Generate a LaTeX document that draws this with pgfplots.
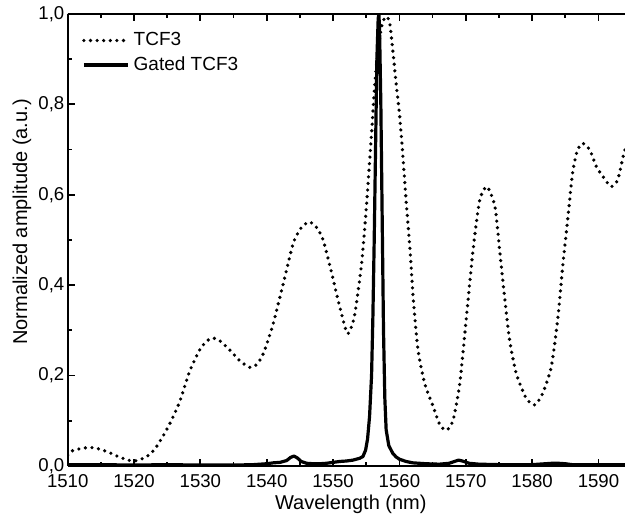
\documentclass[border=0pt]{standalone}
\usepackage{fontspec}
\setmainfont{Liberation Sans}
\usepackage{pgfplots}
\pgfplotsset{compat=1.18}
\begin{document}
\begin{tikzpicture}
\begin{axis}[
  scale only axis,
  width=278.65pt, height=226pt,
  xmin=1510, xmax=1594, ymin=0, ymax=1,
  axis x line*=box, axis y line*=left,
  xtick={1510,1520,1530,1540,1550,1560,1570,1580,1590},
  ytick={0,0.2,0.4,0.6,0.8,1},
  minor x tick num=1, minor y tick num=1,
  tick align=inside,
  major tick length=3.5pt, minor tick length=2pt,
  every tick/.style={black, line width=0.9pt},
  axis line style={line width=0.9pt},
  tick label style={font=\fontsize{9.3}{10}\selectfont},
  /pgf/number format/assume math mode=true,
  /pgf/number format/use comma,
  /pgf/number format/1000 sep={},
  yticklabel style={/pgf/number format/fixed, /pgf/number format/fixed zerofill, /pgf/number format/precision=1, inner xsep=1.5pt},
  xticklabel style={inner ysep=4pt},
  xlabel={Wavelength (nm)},
  ylabel={Normalized amplitude (a.u.)},
  label style={font=\fontsize{12.3}{14}\selectfont},
  every axis x label/.style={at={(axis description cs:0.508,-0.0973)}, anchor=base},
  every axis y label/.style={at={(axis description cs:-0.082,0.54)}, rotate=90, anchor=center},
  legend style={at={(axis description cs:0,1)}, anchor=north west, draw=none, fill=none,
    font=\fontsize{9.5}{11}\selectfont, xshift=4pt, yshift=-5pt, row sep=0pt},
  legend cell align=left,
  legend image code/.code={\draw[#1] (0pt,0pt) -- (22pt,0pt);},
]
\addplot[black, line width=1.8pt, line cap=round, dash pattern=on 0pt off 3.3pt, smooth, tension=0.4] coordinates {
(1510.0,0.024) (1510.6,0.033) (1511.8,0.038) (1513.4,0.041) (1514.9,0.037)
(1516.4,0.029) (1517.9,0.019) (1519.4,0.012) (1520.1,0.011) (1521.4,0.017)
(1522.4,0.026) (1523.4,0.043) (1524.6,0.072) (1525.6,0.100) (1526.9,0.143)
(1528.4,0.210) (1529.9,0.257) (1531.0,0.277) (1531.9,0.283) (1533.0,0.276)
(1534.4,0.257) (1536.0,0.232) (1537.5,0.218) (1538.6,0.226) (1539.5,0.249)
(1540.3,0.283) (1541.0,0.316) (1542.5,0.404) (1544.0,0.493) (1545.2,0.527)
(1546.4,0.540) (1547.5,0.528) (1548.5,0.500) (1549.8,0.426) (1551.0,0.352)
(1552.1,0.294) (1552.7,0.305) (1553.3,0.338) (1554.3,0.448) (1555.0,0.570)
(1555.8,0.736) (1556.3,0.847) (1556.8,0.920) (1557.3,0.972) (1557.9,0.994)
(1558.5,0.983) (1559.0,0.920) (1559.5,0.847) (1560.0,0.780) (1560.5,0.690)
(1561.0,0.588) (1561.6,0.478) (1562.1,0.367) (1562.8,0.257) (1563.8,0.183)
(1565.1,0.131) (1566.1,0.091) (1567.1,0.079) (1568.1,0.102) (1569.1,0.183)
(1570.1,0.330) (1571.1,0.478) (1572.1,0.588) (1573.2,0.618) (1574.4,0.574)
(1575.1,0.478) (1575.9,0.367) (1576.6,0.279) (1577.6,0.205) (1579.1,0.150)
(1580.4,0.135) (1581.6,0.161) (1582.9,0.220) (1583.9,0.330) (1584.6,0.440)
(1585.4,0.551) (1586.1,0.648) (1586.8,0.697) (1587.6,0.714) (1588.7,0.699)
(1589.7,0.662) (1590.7,0.640) (1591.9,0.618) (1592.9,0.633) (1593.7,0.684)
(1594.0,0.700)
};
\addlegendentry{TCF3}
\addplot[black, line width=1.6pt, line join=round] coordinates {
(1510,0.003) (1515,0.003) (1520,0.002) (1525,0.003) (1530,0.002) (1535,0.002)
(1538,0.003) (1540,0.005) (1541,0.007) (1542,0.008) (1543,0.012) (1543.6,0.019)
(1544.1,0.022) (1544.6,0.018) (1545.2,0.010) (1546,0.006) (1547,0.005) (1548,0.005)
(1549,0.006) (1550,0.008) (1551,0.010) (1552,0.011) (1553,0.013) (1554,0.017)
(1554.5,0.021) (1554.9,0.035) (1555.2,0.060) (1555.5,0.110) (1555.8,0.200)
(1556.0,0.330) (1556.2,0.500) (1556.4,0.700) (1556.6,0.900) (1556.8,0.990)
(1556.9,1.000) (1557.0,0.970) (1557.2,0.800) (1557.4,0.550) (1557.6,0.300)
(1557.8,0.150) (1558.0,0.080) (1558.4,0.045) (1559,0.028) (1559.5,0.020)
(1560,0.015) (1561,0.010) (1562,0.007) (1564,0.005) (1566,0.004) (1567.5,0.006)
(1568.3,0.010) (1568.9,0.013) (1569.5,0.011) (1570.5,0.006) (1572,0.004)
(1575,0.003) (1578,0.003) (1580,0.003) (1581,0.004) (1582,0.005) (1583,0.006)
(1584,0.006) (1585,0.005) (1586,0.003) (1588,0.003) (1590,0.003) (1594,0.003)
};
\addlegendentry{Gated TCF3}
\end{axis}
\pgfresetboundingbox
\path ([xshift=-33.85pt,yshift=-27pt]current axis.south west) rectangle ([yshift=7pt]current axis.north east);
\end{tikzpicture}
\end{document}
